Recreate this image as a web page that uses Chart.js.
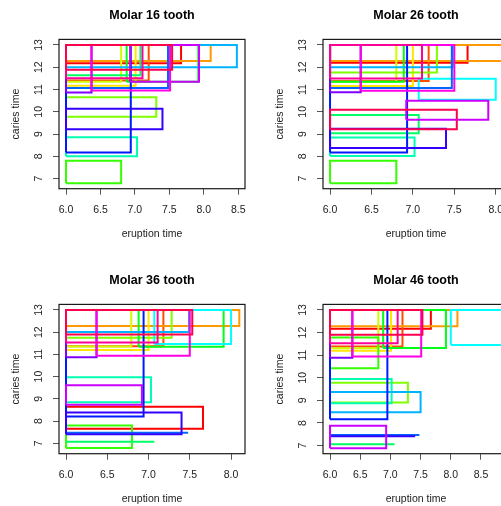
<!DOCTYPE html>
<html>
<head>
<meta charset="utf-8">
<script src="https://cdn.jsdelivr.net/npm/chart.js@4.4.0/dist/chart.umd.min.js"></script>
<style>
  html, body { margin: 0; padding: 0; background: #fff; overflow: hidden; width: 501px; height: 506px; position: relative; }
  canvas { position: absolute; }
</style>
</head>
<body>
<canvas id="c16" width="264" height="265" style="left:0;top:0"></canvas>
<canvas id="c26" width="264" height="265" style="left:264px;top:0"></canvas>
<canvas id="c36" width="264" height="265" style="left:0;top:265px"></canvas>
<canvas id="c46" width="264" height="265" style="left:264px;top:265px"></canvas>
<script>
// one colour per child, rainbow(20)
const subjectColors = [
  '#FF0000', '#FF4D00', '#FF9900', '#FFE500', '#CCFF00',
  '#80FF00', '#33FF00', '#00FF19', '#00FF66', '#00FFB2',
  '#00FFFF', '#00B3FF', '#0066FF', '#001AFF', '#3300FF',
  '#7F00FF', '#CC00FF', '#FF00E6', '#FF0099', '#FF004D'
];

// interval censored times: eruption [lo, hi], caries [lo, hi]
// Molar 16
const eruptLo16  = [6, 6, 6, 6, 6, 6, 6, 6.88, 6, 6, null, 6, 6, 6, 6, 6, 6.93, 6.37, 6, 6];
const eruptHi16  = [7.67, 7.2, 8.1, 7.01, 6.8, 7.31, 6.8, 7.92, 7.08, 7.03, null, 8.48, 7.48, 6.94, 7.4, 6.37, 7.93, 7.51, 7.11, 7.54];
const cariesLo16 = [12.18, 11.4, 12.28, 11.17, 11.35, 9.78, 6.8, 11.35, 11.64, 8.01, null, 12.0, 11.07, 8.17, 9.22, 10.87, 11.35, 10.96, 11.51, 11.89];
const cariesHi16 = [13, 13, 13, 13, 13, 10.65, 7.8, 13, 13, 8.86, null, 13, 13, 13, 10.14, 13, 13, 13, 13, 13];

// Molar 26
const eruptLo26  = [6, 6, 6, 6, 6, 6, 6, 6, 6, 6, 7.07, 6, 6, 6, 6, 6, 6.92, 6.37, 6, 6];
const eruptHi26  = [7.66, 7.19, 8.1, 7.0, 6.8, 7.29, 6.8, 6.89, 7.07, 7.02, 8.0, 7.48, 7.47, 6.93, 7.4, 6.37, 7.91, 7.5, 7.11, 7.53];
const cariesLo26 = [12.2, 11.38, 12.28, 11.16, 11.35, 11.76, 6.8, 11.35, 9.04, 8.02, 10.54, 12.0, 11.07, 8.18, 8.38, 10.88, 9.64, 10.95, 11.5, 9.22];
const cariesHi26 = [13, 13, 13, 13, 13, 13, 7.8, 13, 9.86, 8.85, 11.48, 13, 13, 13, 9.24, 13, 10.5, 13, 13, 10.09];

// Molar 36
const eruptLo36  = [6, 6, 6, 6, 6, 6, 6, 6.88, 6, 6, 7.07, 6, 6, 6, 6, 6, 6, 6.37, 6, 6];
const eruptHi36  = [7.66, 7.18, 8.1, 7.0, 6.79, 7.28, 6.8, 7.91, 7.07, 7.03, 8.0, 7.49, 7.48, 6.94, 7.4, 6.37, 6.92, 7.5, 7.11, 7.53];
const cariesLo36 = [7.65, 11.37, 12.28, 11.2, 11.35, 11.75, 6.79, 11.34, 7.07, 8.85, 11.47, 12.01, 7.47, 8.2, 7.4, 10.87, 8.73, 10.94, 11.53, 11.9];
const cariesHi36 = [8.64, 13, 13, 13, 13, 13, 7.8, 13, 7.07, 9.97, 13, 13, 7.47, 13, 8.38, 13, 9.61, 13, 13, 13];

// Molar 46
const eruptLo46  = [6, 6, 6, 6, 6, 6, 6, 6.88, 6, 6, 8.0, 6, 6, 6, 6, 6, 6, 6.37, 6, 6];
const eruptHi46  = [7.67, 7.2, 8.11, 7.01, 6.8, 7.29, 6.8, 7.92, 7.07, 7.02, 8.85, 7.5, 7.48, 6.95, 7.41, 6.37, 6.93, 7.51, 7.12, 7.53];
const cariesLo46 = [12.17, 11.38, 12.28, 11.19, 11.3, 8.91, 10.42, 11.32, 7.06, 8.87, 11.45, 8.47, 7.47, 8.16, 7.41, 10.88, 6.88, 10.94, 11.53, 11.9];
const cariesHi46 = [13, 13, 13, 13, 13, 9.78, 11.78, 13, 7.06, 9.95, 13, 9.37, 7.47, 13, 7.41, 13, 7.88, 13, 13, 13];

const xTicksA = [6.0, 6.5, 7.0, 7.5, 8.0, 8.5];
const xTicksB = [6.0, 6.5, 7.0, 7.5, 8.0];
const xTicksC = [6.0, 6.5, 7.0, 7.5, 8.0, 8.5, 9.0];
const yTicks = [7, 8, 9, 10, 11, 12, 13];

Chart.defaults.font.family = '"Liberation Sans", Arial, Helvetica, sans-serif';
Chart.defaults.color = '#222';

// frame round the plot region
const boxPlugin = {
  id: 'plotBox',
  afterDraw(chart) {
    const a = chart.chartArea;
    const ctx = chart.ctx;
    ctx.save();
    ctx.strokeStyle = '#1a1a1a';
    ctx.lineWidth = 1.2;
    ctx.strokeRect(a.left, a.top, a.right - a.left, a.bottom - a.top);
    ctx.restore();
  }
};

function rectDatasets(lo, hi, clo, chi) {
  const sets = [];
  for (let i = 0; i < lo.length; i++) {
    if (lo[i] === null) continue;
    sets.push({
      data: [
        {x: lo[i], y: clo[i]}, {x: hi[i], y: clo[i]},
        {x: hi[i], y: chi[i]}, {x: lo[i], y: chi[i]},
        {x: lo[i], y: clo[i]}
      ],
      showLine: true,
      borderColor: subjectColors[i],
      borderWidth: 2,
      borderJoinStyle: 'miter',
      pointRadius: 0,
      pointHoverRadius: 0,
      fill: false,
      tension: 0,
      order: lo.length - i
    });
  }
  return sets;
}

function drawPanel(id, title, lo, hi, clo, chi, xMin, xMax, xTicks, yMin, yMax) {
  new Chart(document.getElementById(id), {
    type: 'scatter',
    data: { datasets: rectDatasets(lo, hi, clo, chi) },
    plugins: [boxPlugin],
    options: {
      responsive: false,
      animation: false,
      layout: { padding: { left: 0, top: 0, right: 19, bottom: 0 } },
      plugins: {
        legend: { display: false },
        tooltip: { enabled: false },
        title: {
          display: true,
          text: title,
          fullSize: false,
          color: '#000',
          font: { size: 12.5, weight: 'bold' },
          padding: { top: 7.8, bottom: 16.6 }
        }
      },
      scales: {
        x: {
          type: 'linear',
          min: xMin,
          max: xMax,
          afterBuildTicks: s => { s.ticks = xTicks.map(v => ({ value: v })); },
          afterFit: s => { s.height = 76.3; },
          ticks: {
            autoSkip: false,
            maxRotation: 0,
            padding: 9.2,
            font: { size: 10.5 },
            color: '#222',
            callback: v => Number(v).toFixed(1)
          },
          grid: { drawOnChartArea: false, tickLength: 6, color: '#555', lineWidth: 1 },
          border: { display: false },
          title: {
            display: true,
            text: 'eruption time',
            color: '#222',
            font: { size: 10.5 },
            padding: { top: 0, bottom: 25 }
          }
        },
        y: {
          type: 'linear',
          min: yMin,
          max: yMax,
          afterBuildTicks: s => { s.ticks = yTicks.map(v => ({ value: v })); },
          afterFit: s => { s.width = 59; },
          ticks: {
            autoSkip: false,
            minRotation: 90,
            maxRotation: 90,
            crossAlign: 'center',
            padding: 8.4,
            font: { size: 10.5 },
            color: '#222',
            callback: v => String(v)
          },
          grid: { drawOnChartArea: false, tickLength: 6, color: '#555', lineWidth: 1 },
          border: { display: false },
          title: {
            display: true,
            text: 'caries time',
            color: '#222',
            font: { size: 10.5 },
            padding: { top: 9.4, bottom: 0 }
          }
        }
      }
    }
  });
}

drawPanel('c16', 'Molar 16 tooth', eruptLo16, eruptHi16, cariesLo16, cariesHi16, 5.898, 8.598, xTicksA, 6.55, 13.25);
drawPanel('c26', 'Molar 26 tooth', eruptLo26, eruptHi26, cariesLo26, cariesHi26, 5.915, 8.16, xTicksB, 6.55, 13.25);
drawPanel('c36', 'Molar 36 tooth', eruptLo36, eruptHi36, cariesLo36, cariesHi36, 5.915, 8.169, xTicksB, 6.53, 13.25);
drawPanel('c46', 'Molar 46 tooth', eruptLo46, eruptHi46, cariesLo46, cariesHi46, 5.884, 8.964, xTicksC, 6.64, 13.245);
</script>
</body>
</html>
